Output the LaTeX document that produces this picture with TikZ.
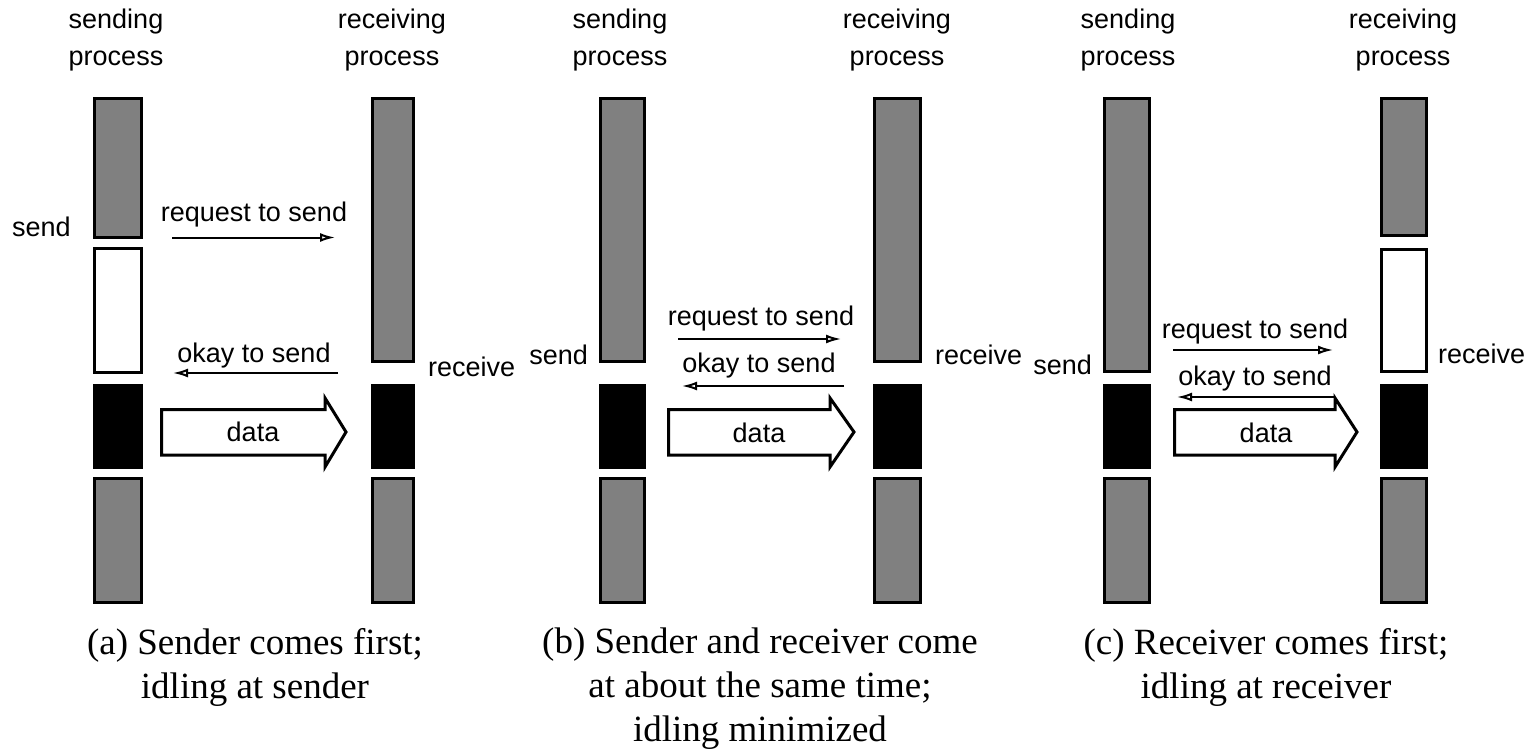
\documentclass[tikz,border=0pt]{standalone}
\usepackage{fontspec}
\setmainfont{Liberation Serif}
\setsansfont{Liberation Sans}
\usetikzlibrary{arrows.meta}
\definecolor{barGray}{RGB}{128,128,128}
% name, style, x1, y1, x2, y2 (outer edges, in px)
\newcommand{\procbar}[6]{%
  \pgfmathsetmacro{\pbW}{#5-#3-3}%
  \pgfmathsetmacro{\pbH}{#6-#4-3}%
  \node[#2, minimum width=\pbW pt, minimum height=\pbH pt] (#1) at ({(#3+#5)/2},{(#4+#6)/2}) {};}
\begin{document}
\begin{tikzpicture}[x=1pt,y=-1pt,
  barbase/.style={draw=black, line width=3pt, inner sep=0pt, outer sep=0pt, rectangle},
  graybar/.style={barbase, fill=barGray},
  idlebar/.style={barbase, fill=white},
  commbar/.style={barbase, fill=black},
  lbl/.style={font=\sffamily\fontsize{27}{32}\selectfont, inner sep=0pt},
  hdr/.style={font=\sffamily\fontsize{27}{37}\selectfont, inner sep=0pt, align=center, anchor=north},
  captext/.style={font=\rmfamily\fontsize{37}{44}\selectfont, inner sep=0pt, align=center, anchor=north},
  msg/.style={line width=2pt, -{Latex[open,length=15pt,width=9pt,line width=2pt]}},
  dataarrow/.style={draw=black, line width=3pt, fill=white, line join=miter}
]
\useasboundingbox (0,0) rectangle (1534,749);

% ---------------- panel (a) ----------------
\node[hdr] (hSa) at (116,9) {sending\\process};
\node[hdr] (hRa) at (392,9) {receiving\\process};
\procbar{sa1}{graybar}{93}{97}{143}{239}
\procbar{sa2}{idlebar}{93}{247}{143}{374}
\procbar{sa3}{commbar}{93}{384}{143}{469}
\procbar{sa4}{graybar}{93}{477}{143}{604}
\procbar{ra1}{graybar}{371}{97}{415}{363}
\procbar{ra3}{commbar}{371}{384}{415}{469}
\procbar{ra4}{graybar}{371}{477}{415}{604}
\node[lbl, anchor=west] (sendA) at (12,227) {send};
\node[lbl, anchor=west] (recvA) at (428,367) {receive};
\node[lbl] (reqAl) at (254,215) {request to send};
\coordinate (reqA1) at (172,237.5);
\coordinate (reqA2) at (335,237.5);
\draw[msg] (reqA1) -- (reqA2);
\node[lbl] (okAl) at (254,356) {okay to send};
\coordinate (okA1) at (338,373);
\coordinate (okA2) at (173,373);
\draw[msg] (okA1) -- (okA2);
\draw[dataarrow] (161.5,409.5) -- (325,409.5) -- (325,398) -- (346,432) -- (325,467) -- (325,455) -- (161.5,455) -- cycle;
\node[lbl] (dataA) at (253,432) {data};
\node[captext] (capA) at (255,628) {(a) Sender comes first;\\idling at sender};

% ---------------- panel (b) ----------------
\node[hdr] (hSb) at (620,9) {sending\\process};
\node[hdr] (hRb) at (897,9) {receiving\\process};
\procbar{sb1}{graybar}{599}{97}{646}{363}
\procbar{sb3}{commbar}{599}{384}{646}{469}
\procbar{sb4}{graybar}{599}{477}{646}{604}
\procbar{rb1}{graybar}{873}{97}{922}{363}
\procbar{rb3}{commbar}{873}{384}{922}{469}
\procbar{rb4}{graybar}{873}{477}{922}{604}
\node[lbl, anchor=east] (sendB) at (588,355) {send};
\node[lbl, anchor=west] (recvB) at (935,355) {receive};
\node[lbl] (reqBl) at (761,319) {request to send};
\coordinate (reqB1) at (678,339);
\coordinate (reqB2) at (841,339);
\draw[msg] (reqB1) -- (reqB2);
\node[lbl] (okBl) at (759,366) {okay to send};
\coordinate (okB1) at (844,386);
\coordinate (okB2) at (682,386);
\draw[msg] (okB1) -- (okB2);
\draw[dataarrow] (668.5,409.5) -- (830,409.5) -- (830,398) -- (854,432) -- (830,467) -- (830,455) -- (668.5,455) -- cycle;
\node[lbl] (dataB) at (759,433) {data};
\node[captext] (capB) at (760,628) {(b) Sender and receiver come\\at about the same time;\\idling minimized};

% ---------------- panel (c) ----------------
\node[hdr] (hSc) at (1128,9) {sending\\process};
\node[hdr] (hRc) at (1403,9) {receiving\\process};
\procbar{sc1}{graybar}{1103}{97}{1151}{373}
\procbar{sc3}{commbar}{1103}{384}{1151}{469}
\procbar{sc4}{graybar}{1103}{477}{1151}{604}
\procbar{rc1}{graybar}{1380}{97}{1428}{237}
\procbar{rc2}{idlebar}{1380}{248}{1428}{373}
\procbar{rc3}{commbar}{1380}{384}{1428}{469}
\procbar{rc4}{graybar}{1380}{477}{1428}{604}
\node[lbl, anchor=east] (sendC) at (1092,365) {send};
\node[lbl, anchor=west] (recvC) at (1438,354) {receive};
\node[lbl] (reqCl) at (1255,332) {request to send};
\coordinate (reqC1) at (1173,350);
\coordinate (reqC2) at (1333,350);
\draw[msg] (reqC1) -- (reqC2);
\node[lbl] (okCl) at (1255,379) {okay to send};
\coordinate (okC1) at (1335,397);
\coordinate (okC2) at (1177,397);
\draw[msg] (okC1) -- (okC2);
\draw[dataarrow] (1174.5,409.5) -- (1335,409.5) -- (1335,398) -- (1357,432) -- (1335,467) -- (1335,455) -- (1174.5,455) -- cycle;
\node[lbl] (dataC) at (1266,433) {data};
\node[captext] (capC) at (1266,628) {(c) Receiver comes first;\\idling at receiver};
\end{tikzpicture}
\end{document}
